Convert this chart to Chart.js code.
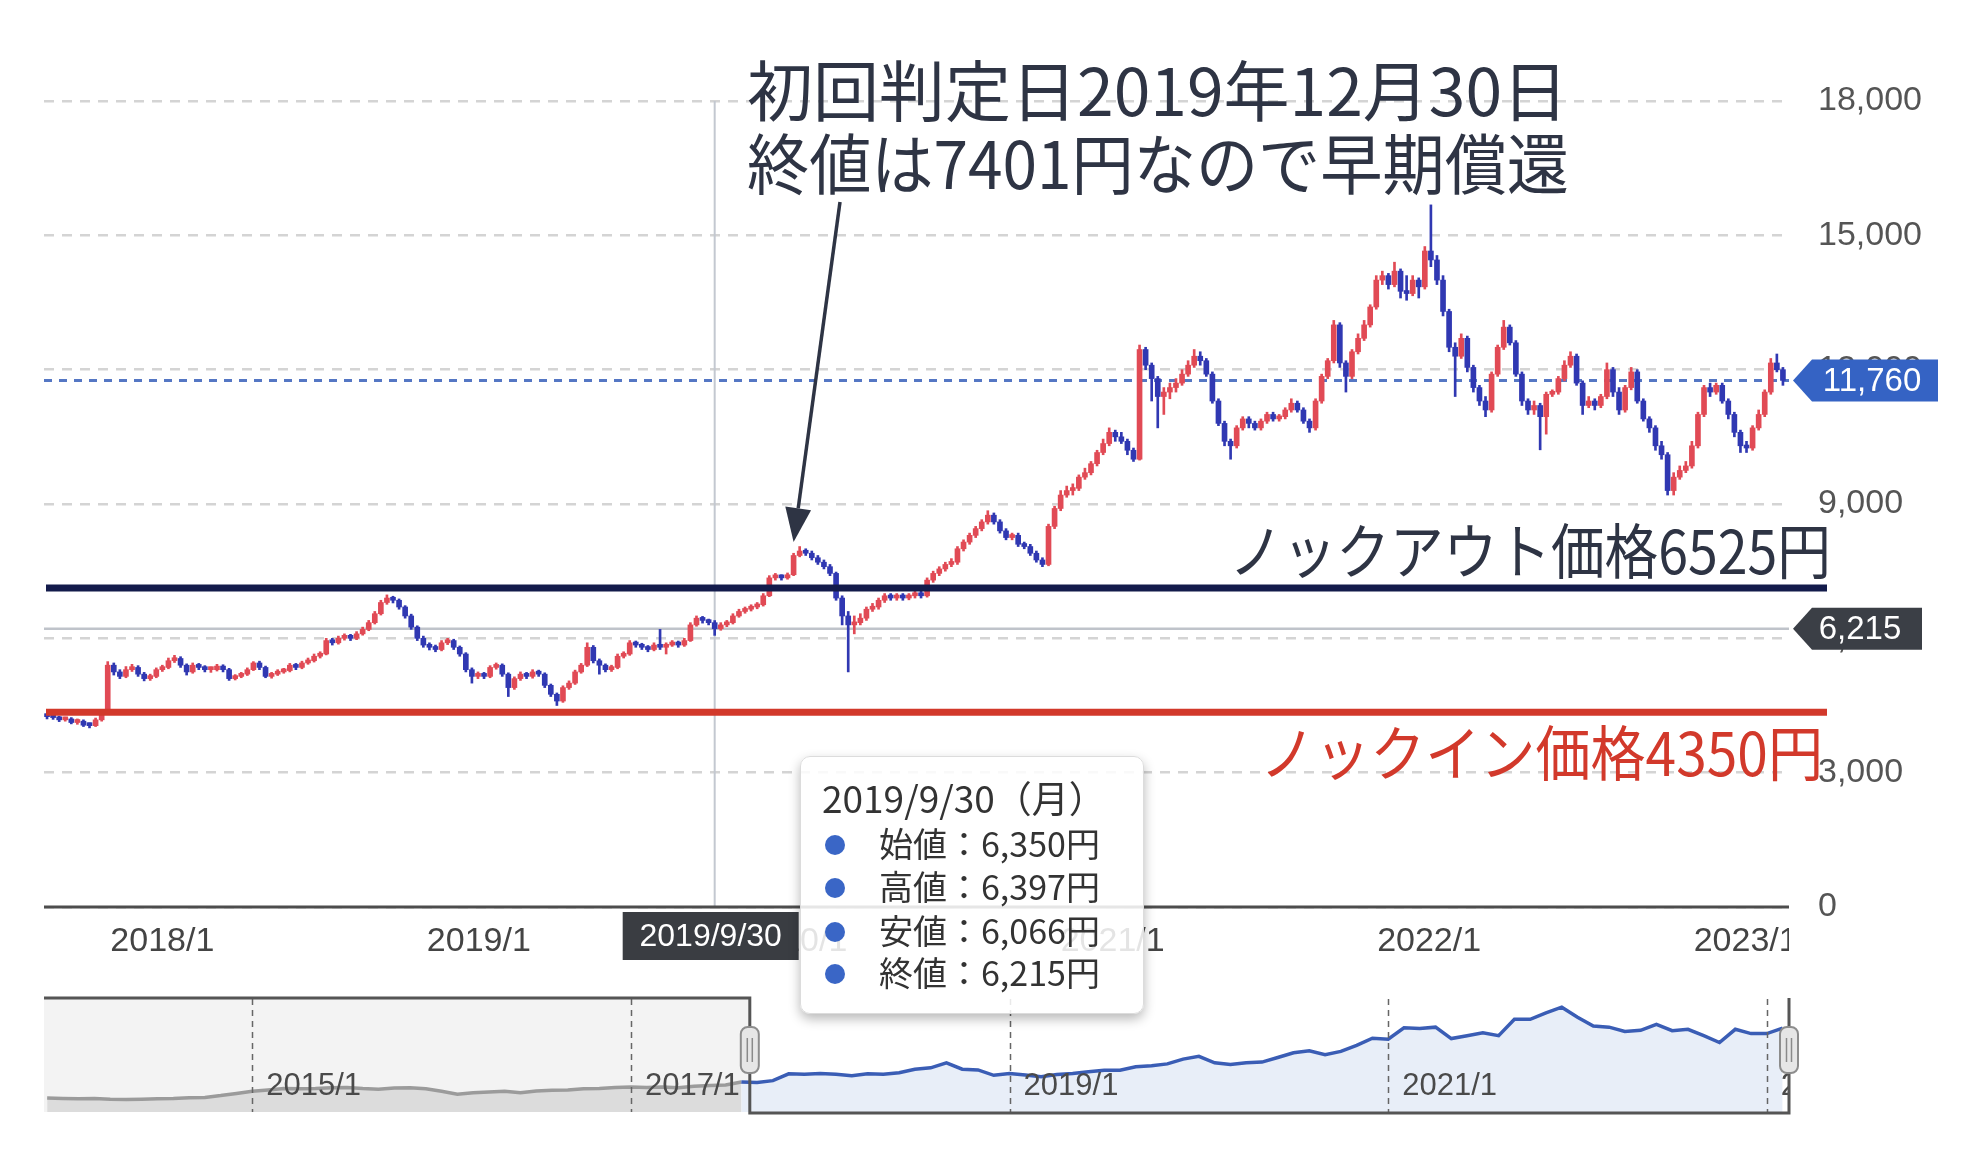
<!DOCTYPE html>
<html lang="ja">
<head>
<meta charset="utf-8">
<title>株価チャート</title>
<script src="https://cdn.jsdelivr.net/npm/chart.js@4.4.1/dist/chart.umd.min.js"></script>
<style>
  html, body { margin: 0; padding: 0; background: #fff; }
  #wrap { position: relative; width: 1976px; height: 1166px; overflow: hidden; }
  #main { position: absolute; left: 0; top: 0; }
  #nav { position: absolute; left: 0; top: 980px; }
  #tip {
    position: absolute; left: 800px; top: 756px; width: 344px; height: 258px;
    box-sizing: border-box; background: rgba(255, 255, 255, 0.86);
    border: 1px solid #dcdcdc; border-radius: 10px;
    box-shadow: 0 5px 12px rgba(0, 0, 0, 0.28);
    font-family: "Noto Sans CJK JP", sans-serif; color: #333;
  }
  #tip .title { position: absolute; left: 21px; top: 17px; font-size: 37px; line-height: 46px; white-space: nowrap; }
  #tip .row { position: absolute; left: 24px; font-size: 34px; line-height: 42px; white-space: nowrap; }
  #tip .dot {
    display: inline-block; width: 20px; height: 20px; border-radius: 50%;
    background: #3a66c6; margin-right: 34px; vertical-align: middle; position: relative; top: -3px;
  }
</style>
</head>
<body>
<div id="wrap">
  <canvas id="main" width="1976" height="980"></canvas>
  <canvas id="nav" width="1976" height="150"></canvas>
  <div id="tip"></div>
</div>
<script>
(function () {
    'use strict';

    // Weekly candles, week 0 = 2017/8/21 (Mon). Open of each week = previous close.
    var firstOpen = 4280;
    var closes = [
        4250, 4230, 4180, 4200, 4120, 4150, 4060, 4050, 4180, 4320,
        5400, 5250, 5150, 5300, 5350, 5200, 5100, 5150, 5300, 5350,
        5500, 5550, 5400, 5250, 5400, 5350, 5300, 5300, 5380, 5300,
        5100, 5150, 5200, 5300, 5450, 5350, 5150, 5200, 5250, 5280,
        5400, 5350, 5450, 5500, 5600, 5650, 5950, 5900, 6000, 6050,
        6000, 6100, 6200, 6350, 6550, 6800, 6900, 6850, 6700, 6500,
        6250, 6000, 5850, 5800, 5750, 5900, 5950, 5800, 5650, 5300,
        5150, 5200, 5150, 5350, 5400, 5200, 4900, 5100, 5200, 5150,
        5250, 5200, 4950, 4750, 4600, 4900, 5000, 5250, 5400, 5800,
        5500, 5400, 5300, 5350, 5600, 5650, 5900, 5850, 5800, 5750,
        5850, 5800, 5850, 5900, 5850, 5950, 6300, 6450, 6400, 6350,
        6215, 6300, 6350, 6500, 6600, 6650, 6700, 6750, 6950, 7350,
        7380, 7350, 7420, 7850, 7950, 7900, 7800, 7700, 7600, 7450,
        6900, 6500, 6300, 6350, 6450, 6650, 6700, 6850, 6950, 6900,
        6950, 6900, 6950, 7000, 6950, 7300, 7450, 7550, 7650, 7700,
        8000, 8150, 8300, 8450, 8600, 8750, 8600, 8400, 8250, 8300,
        8100, 8050, 7900, 7750, 7650, 8500, 8900, 9200, 9300, 9350,
        9600, 9700, 9900, 10150, 10350, 10600, 10500, 10400, 10200, 10000,
        12450, 12100, 11800, 11400, 11500, 11600, 11700, 11900, 12100, 12300,
        12200, 11900, 11300, 10800, 10400, 10300, 10700, 10900, 10800, 10700,
        10850, 11000, 10900, 10950, 11100, 11250, 11100, 10850, 10700, 11300,
        11850, 12200, 13000, 12150, 11850, 12400, 12700, 13000, 13400, 14000,
        14100, 13900, 14200, 13750, 13700, 14000, 13850, 14650, 14450, 14000,
        13300, 12500, 12300, 12700, 12050, 11600, 11300, 11100, 11900, 12500,
        12950, 12600, 11900, 11300, 11100, 11200, 10950, 11450, 11500, 11800,
        12100, 12300, 11700, 11200, 11300, 11200, 11400, 12000, 11500, 11100,
        11600, 11950, 11300, 10900, 10700, 10300, 10100, 9300, 9600, 9750,
        9850, 10300, 11000, 11600, 11500, 11650, 11300, 11000, 10600, 10300,
        10250, 10700, 11000, 11500, 12150, 12000, 11760
    ];
    var highs = [
        4320, 4290, 4260, 4240, 4230, 4200, 4180, 4110, 4220, 4360,
        5480, 5450, 5300, 5370, 5420, 5390, 5240, 5200, 5340, 5400,
        5560, 5620, 5590, 5430, 5450, 5440, 5390, 5360, 5420, 5410,
        5330, 5190, 5240, 5340, 5480, 5490, 5380, 5240, 5300, 5330,
        5440, 5440, 5490, 5560, 5650, 5700, 6000, 6000, 6050, 6100,
        6090, 6150, 6250, 6400, 6600, 6850, 6970, 6940, 6880, 6730,
        6540, 6280, 6050, 5900, 5850, 5950, 6000, 5980, 5830, 5680,
        5340, 5250, 5240, 5390, 5450, 5430, 5230, 5140, 5250, 5240,
        5300, 5290, 5230, 4980, 4780, 4940, 5050, 5290, 5440, 5900,
        5840, 5540, 5430, 5400, 5650, 5700, 5950, 5940, 5890, 5840,
        5900, 6200, 5900, 5950, 5940, 6000, 6350, 6500, 6490, 6430,
        6397, 6350, 6400, 6550, 6650, 6700, 6750, 6800, 7000, 7400,
        7450, 7420, 7460, 7900, 8050, 8000, 7950, 7850, 7750, 7650,
        7480, 6950, 6600, 6500, 6550, 6700, 6780, 6900, 7000, 7000,
        7000, 7000, 7000, 7050, 7060, 7350, 7500, 7600, 7700, 7780,
        8050, 8200, 8350, 8500, 8650, 8850, 8800, 8650, 8450, 8350,
        8350, 8150, 8100, 7950, 7800, 8550, 8950, 9300, 9400, 9450,
        9650, 9800, 9950, 10200, 10450, 10700, 10650, 10600, 10450, 10250,
        12550, 12500, 12150, 11850, 11600, 11700, 11800, 12000, 12200, 12450,
        12400, 12250, 11950, 11350, 10850, 10450, 10750, 10950, 10950, 10850,
        10900, 11050, 11050, 11000, 11150, 11350, 11300, 11150, 10900, 11350,
        11900, 12250, 13100, 13050, 12200, 12450, 12800, 13100, 13450, 14100,
        14200, 14150, 14400, 14250, 14100, 14100, 14050, 14750, 15680, 14550,
        14100, 13350, 12600, 12800, 12750, 12100, 11650, 11400, 11950, 12550,
        13100, 13000, 12650, 11950, 11350, 11300, 11250, 11500, 11550, 11850,
        12200, 12400, 12350, 11750, 11400, 11350, 11450, 12150, 12050, 11600,
        11650, 12050, 12000, 11350, 10950, 10750, 10400, 10150, 9700, 9850,
        9950, 10400, 11050, 11650, 11700, 11700, 11700, 11350, 11050, 10650,
        10400, 10750, 11100, 11550, 12250, 12350, 12050
    ];
    var lows = [
        4200, 4190, 4140, 4150, 4090, 4080, 4030, 4000, 4030, 4150,
        4300, 5180, 5100, 5120, 5260, 5150, 5050, 5060, 5120, 5260,
        5320, 5460, 5350, 5180, 5220, 5300, 5250, 5240, 5270, 5250,
        5060, 5070, 5120, 5170, 5280, 5300, 5120, 5110, 5170, 5220,
        5250, 5300, 5320, 5420, 5470, 5560, 5630, 5850, 5870, 5960,
        5950, 5970, 6070, 6170, 6320, 6520, 6760, 6790, 6650, 6450,
        6200, 5950, 5800, 5740, 5700, 5720, 5860, 5750, 5600, 5250,
        5000, 5100, 5100, 5120, 5310, 5150, 4700, 4860, 5060, 5100,
        5110, 5150, 4900, 4700, 4500, 4570, 4860, 4970, 5220, 5370,
        5450, 5200, 5250, 5260, 5320, 5560, 5620, 5800, 5750, 5700,
        5720, 5750, 5650, 5820, 5800, 5820, 5930, 6270, 6340, 6300,
        6066, 6180, 6260, 6320, 6470, 6560, 6610, 6660, 6720, 6930,
        7300, 7300, 7320, 7400, 7820, 7850, 7750, 7650, 7550, 7400,
        6850, 6300, 5250, 6100, 6300, 6400, 6600, 6650, 6800, 6850,
        6850, 6850, 6860, 6900, 6900, 6920, 7250, 7400, 7500, 7600,
        7650, 7950, 8100, 8250, 8400, 8550, 8550, 8350, 8200, 8200,
        8050, 8000, 7850, 7700, 7600, 7620, 8450, 8850, 9150, 9200,
        9300, 9550, 9650, 9850, 10100, 10300, 10400, 10350, 10100, 9950,
        9980, 12000, 11300, 10700, 11000, 11350, 11500, 11650, 11850, 12050,
        12100, 11850, 11250, 10750, 10300, 10000, 10250, 10650, 10700, 10650,
        10650, 10800, 10850, 10850, 10900, 11050, 11050, 10800, 10600, 10650,
        11250, 11800, 12150, 12050, 11500, 11800, 12350, 12650, 12950, 13350,
        13900, 13800, 13850, 13600, 13550, 13650, 13600, 13800, 14300, 13900,
        13200, 12400, 11400, 12250, 11950, 11500, 11200, 10950, 11050, 11850,
        12450, 12550, 11850, 11200, 11000, 11000, 10210, 10560, 11400, 11450,
        11750, 12050, 11650, 11000, 11150, 11100, 11150, 11350, 11400, 11000,
        11050, 11550, 11250, 10850, 10600, 10200, 10000, 9200, 9200, 9550,
        9700, 9800, 10250, 10950, 11400, 11450, 11250, 10900, 10500, 10150,
        10150, 10200, 10650, 10950, 11450, 11950, 11650
    ];

    // x axis ticks (week positions)
    var xTickLabels = ['2018/1', '2019/1', '2020/1', '2021/1', '2022/1', '2023/1'];
    var xTickWeeks = [19, 71.14, 123.29, 175.57, 227.71, 279.86];

    var lastPrice = 11760;
    var knockOutText = 'ノックアウト価格6525円';
    var knockInText = 'ノックイン価格4350円';
    var knockOutLineAt = 7125;   // where the hand-drawn line sits on the picture
    var knockInLineAt = 4350;
    var noteLines = ['初回判定日2019年12月30日', '終値は7401円なので早期償還'];
    var noteWeek = 123;          // 2019/12/30
    var notePointAt = 8150;

    // crosshair / tooltip
    var crossWeek = 110;
    var crossDate = '2019/9/30';
    var crossDay = '月';
    var tipNames = ['始値', '高値', '安値', '終値'];

    // Navigator: monthly values from 2013/12
    var navStart = 2013 + 11 / 12;
    var navValues = [
        1950,
        1900, 1850, 1900, 1800, 1750, 1800, 1850, 1900, 2000, 2050, 2300, 2600,
        2900, 3100, 3300, 3250, 3300, 3400, 3450, 3300, 3200, 3350, 3400, 3250,
        2900, 2500, 2700, 2800, 2900, 2700, 2950, 3050, 3100, 3250, 3300, 3450,
        3500, 3450, 3500, 3400, 3600, 3700, 3800, 4200, 4150, 4400, 5350, 5300,
        5400, 5300, 5100, 5350, 5280, 5500, 6000, 6200, 6900, 6000, 5900, 5150,
        5400, 5200, 4950, 5250, 5400, 5650, 5850, 5850, 6350, 6500, 6750, 7420,
        7800, 6900, 6650, 6900, 7000, 7650, 8300, 8600, 8050, 8500, 9350, 10350,
        10200, 11800, 11700, 11900, 10300, 10700, 11100, 10700, 13000, 13000, 13900, 14700,
        13300, 12050, 11900, 11300, 11450, 12300, 11400, 11600, 10700, 9750, 11600, 11000,
        11000, 11760
    ];
    var navTickYears = [2015, 2017, 2019, 2021, 2023];
    var navTickLabels = ['2015/1', '2017/1', '2019/1', '2021/1', '2023/1'];
    var navSelStart = 2017.628;

    var RED = '#e14a55';
    var BLUE = '#3038b2';
    var CJK = '"Noto Sans CJK JP", "Noto Sans CJK SC", sans-serif';
    var LATIN = '"Liberation Sans", Arial, sans-serif';

    Chart.defaults.font.family = LATIN;

    var opens = closes.map(function (c, i) { return i === 0 ? firstOpen : closes[i - 1]; });

    function candleColor(ctx) {
        var i = ctx.dataIndex;
        return closes[i] >= opens[i] ? RED : BLUE;
    }

    function line(ctx, x1, y1, x2, y2) {
        ctx.beginPath();
        ctx.moveTo(x1, y1);
        ctx.lineTo(x2, y2);
        ctx.stroke();
    }

    function fmt(v) { return v.toLocaleString('en-US'); }

    function priceTag(ctx, x, y, w, color, text, textX) {
        ctx.fillStyle = color;
        ctx.beginPath();
        ctx.moveTo(x, y);
        ctx.lineTo(x + 19, y - 21);
        ctx.lineTo(x + w, y - 21);
        ctx.lineTo(x + w, y + 21);
        ctx.lineTo(x + 19, y + 21);
        ctx.closePath();
        ctx.fill();
        ctx.fillStyle = '#fff';
        ctx.font = '33px ' + LATIN;
        ctx.textAlign = 'center';
        ctx.textBaseline = 'middle';
        ctx.fillText(text, textX, y + 1);
    }

    var mainOverlay = {
        id: 'mainOverlay',
        beforeDatasetsDraw: function (chart) {
            var ctx = chart.ctx, a = chart.chartArea, x = chart.scales.x, y = chart.scales.y;
            ctx.save();
            // last price
            var ly = y.getPixelForValue(lastPrice);
            ctx.strokeStyle = '#5577c4';
            ctx.lineWidth = 3;
            ctx.setLineDash([8, 7]);
            line(ctx, a.left, ly, a.right, ly);
            ctx.setLineDash([]);
            // crosshair
            var cx = x.getPixelForValue(crossWeek);
            ctx.strokeStyle = '#c3c8d0';
            ctx.lineWidth = 2;
            line(ctx, cx, a.top, cx, a.bottom);
            var cy = y.getPixelForValue(closes[crossWeek]);
            ctx.strokeStyle = '#bfc3ca';
            ctx.lineWidth = 2.5;
            line(ctx, a.left, cy, a.right, cy);
            ctx.restore();
        },
        afterDatasetsDraw: function (chart) {
            var ctx = chart.ctx, a = chart.chartArea, y = chart.scales.y;
            ctx.save();
            var ko = y.getPixelForValue(knockOutLineAt);
            var ki = y.getPixelForValue(knockInLineAt);
            ctx.lineWidth = 7;
            ctx.strokeStyle = '#131b4b';
            line(ctx, a.left + 2, ko, a.right + 38, ko);
            ctx.strokeStyle = '#d2392b';
            line(ctx, a.left + 2, ki, a.right + 38, ki);
            // bottom axis line
            ctx.strokeStyle = '#4d4d4d';
            ctx.lineWidth = 3;
            line(ctx, a.left, a.bottom, a.right, a.bottom);
            ctx.restore();
        },
        afterDraw: function (chart) {
            var ctx = chart.ctx, a = chart.chartArea, x = chart.scales.x, y = chart.scales.y;
            ctx.save();

            // x tick labels, clipped at the plot edge
            ctx.save();
            ctx.beginPath();
            ctx.rect(0, a.bottom, a.right, 80);
            ctx.clip();
            ctx.fillStyle = '#444';
            ctx.font = '34px ' + LATIN;
            ctx.textAlign = 'center';
            ctx.textBaseline = 'middle';
            xTickWeeks.forEach(function (w, k) {
                ctx.fillText(xTickLabels[k], x.getPixelForValue(w), 942);
            });
            ctx.restore();

            // crosshair date box
            var cx = x.getPixelForValue(crossWeek);
            ctx.fillStyle = '#3a3d42';
            ctx.fillRect(cx - 92, 912, 176, 48);
            ctx.fillStyle = '#fff';
            ctx.font = '32px ' + LATIN;
            ctx.textAlign = 'center';
            ctx.textBaseline = 'middle';
            ctx.fillText(crossDate, cx - 4, 937);

            // price tags on the right axis
            priceTag(ctx, a.right + 4, y.getPixelForValue(lastPrice), 145, '#3563c4', fmt(lastPrice), 1872);
            priceTag(ctx, a.right + 4, y.getPixelForValue(closes[crossWeek]), 129, '#3b3f46', fmt(closes[crossWeek]), 1860);

            // knock-out / knock-in labels
            var ko = y.getPixelForValue(knockOutLineAt);
            var ki = y.getPixelForValue(knockInLineAt);
            ctx.textAlign = 'right';
            ctx.font = '60px ' + CJK;
            ctx.fillStyle = '#2e3444';
            ctx.fillText(knockOutText, 1831, ko - 37, 602);
            ctx.fillStyle = '#d2392b';
            ctx.fillText(knockInText, 1823, ki + 41, 563);

            // note text
            ctx.textAlign = 'left';
            ctx.fillStyle = '#2e3444';
            ctx.font = '66px ' + CJK;
            ctx.fillText(noteLines[0], 747, 91, 822);
            ctx.fillText(noteLines[1], 747, 164, 822);

            // arrow
            var tx = x.getPixelForValue(noteWeek), ty = y.getPixelForValue(notePointAt);
            var sx = 840, sy = 202;
            var dx = tx - sx, dy = ty - sy, len = Math.sqrt(dx * dx + dy * dy);
            var ux = dx / len, uy = dy / len;
            var bx = tx - ux * 34, by = ty - uy * 34;
            ctx.strokeStyle = '#2e3444';
            ctx.lineWidth = 3.5;
            line(ctx, sx, sy, bx, by);
            ctx.fillStyle = '#2e3444';
            ctx.beginPath();
            ctx.moveTo(tx, ty);
            ctx.lineTo(bx - uy * 13, by + ux * 13);
            ctx.lineTo(bx + uy * 13, by - ux * 13);
            ctx.closePath();
            ctx.fill();

            ctx.restore();
        }
    };

    new Chart(document.getElementById('main'), {
        type: 'bar',
        data: {
            datasets: [{
                label: 'body',
                data: closes.map(function (c, i) { return { x: i, y: [opens[i], c] }; }),
                backgroundColor: candleColor,
                borderWidth: 0,
                barThickness: 5,
                minBarLength: 3,
                grouped: false,
                order: 0,
            }, {
                label: 'wick',
                data: closes.map(function (c, i) { return { x: i, y: [lows[i], highs[i]] }; }),
                backgroundColor: candleColor,
                borderWidth: 0,
                barThickness: 2,
                grouped: false,
                order: 1,
            }],
        },
        options: {
            responsive: false,
            animation: false,
            events: [],
            layout: { padding: { left: 44, right: 0, top: 101, bottom: 73 } },
            plugins: {
                legend: { display: false },
                tooltip: { enabled: false },
            },
            scales: {
                x: { type: 'linear', min: -0.5, max: 287, offset: false, display: false },
                y: {
                    position: 'right',
                    min: 0,
                    max: 18000,
                    afterFit: function (s) { s.width = 187; },
                    ticks: {
                        stepSize: 3000,
                        padding: 29,
                        color: '#555',
                        font: { size: 34 },
                        callback: function (v) { return fmt(v); },
                    },
                    grid: { color: '#d4d4d4', lineWidth: 2.5, drawTicks: false },
                    border: { display: false, dash: [10, 8] },
                },
            },
        },
        plugins: [mainOverlay],
    });

    // Navigator
    var NAV_GRAY = '#9b9b9b';
    var NAV_BLUE = '#3a5db5';

    var navOverlay = {
        id: 'navOverlay',
        beforeDatasetsDraw: function (chart) {
            var ctx = chart.ctx, a = chart.chartArea, x = chart.scales.x;
            var sx = x.getPixelForValue(navSelStart);
            ctx.save();
            ctx.fillStyle = '#f3f3f3';
            ctx.fillRect(a.left, a.top, sx - a.left, a.bottom - a.top);
            ctx.restore();
        },
        afterDatasetsDraw: function (chart) {
            var ctx = chart.ctx, a = chart.chartArea, x = chart.scales.x;
            var sx = x.getPixelForValue(navSelStart);
            ctx.save();
            // dashed year lines
            ctx.strokeStyle = '#666';
            ctx.lineWidth = 1.5;
            ctx.setLineDash([6, 5]);
            navTickYears.forEach(function (yr) {
                var gx = Math.round(x.getPixelForValue(yr)) + 0.5;
                line(ctx, gx, a.top, gx, a.bottom);
            });
            ctx.setLineDash([]);
            // labels
            ctx.save();
            ctx.beginPath();
            ctx.rect(a.left, 0, a.right - a.left, chart.height);
            ctx.clip();
            ctx.fillStyle = '#4a4a4a';
            ctx.font = '31px ' + LATIN;
            ctx.textAlign = 'left';
            ctx.textBaseline = 'middle';
            navTickYears.forEach(function (yr, k) {
                ctx.fillText(navTickLabels[k], x.getPixelForValue(yr) + 14, 106);
            });
            ctx.restore();
            // outline
            ctx.strokeStyle = '#555';
            ctx.lineWidth = 3;
            ctx.beginPath();
            ctx.moveTo(a.left, a.top - 1);
            ctx.lineTo(sx, a.top - 1);
            ctx.lineTo(sx, a.bottom + 1);
            ctx.lineTo(a.right, a.bottom + 1);
            ctx.lineTo(a.right, a.top - 1);
            ctx.stroke();
            // handles
            [sx, a.right].forEach(function (hx) {
                ctx.fillStyle = '#e6e6e6';
                ctx.strokeStyle = '#8d8d8d';
                ctx.lineWidth = 2;
                ctx.beginPath();
                if (ctx.roundRect) ctx.roundRect(hx - 9, 47, 18, 46, 7);
                else ctx.rect(hx - 9, 47, 18, 46);
                ctx.fill();
                ctx.stroke();
                ctx.strokeStyle = '#8a8a8a';
                ctx.lineWidth = 1.5;
                line(ctx, hx - 2.5, 58, hx - 2.5, 82);
                line(ctx, hx + 2.5, 58, hx + 2.5, 82);
            });
            ctx.restore();
        },
    };

    new Chart(document.getElementById('nav'), {
        type: 'line',
        data: {
            datasets: [{
                data: navValues.map(function (v, k) { return { x: navStart + k / 12, y: v }; }),
                borderWidth: 3.5,
                borderColor: NAV_BLUE,
                backgroundColor: '#e8eef8',
                pointRadius: 0,
                tension: 0,
                fill: 'origin',
                segment: {
                    borderColor: function (c) { return c.p1.parsed.x <= navSelStart ? NAV_GRAY : NAV_BLUE; },
                    backgroundColor: function (c) { return c.p1.parsed.x <= navSelStart ? '#dcdcdc' : '#e8eef8'; },
                },
            }],
        },
        options: {
            responsive: false,
            animation: false,
            events: [],
            layout: { padding: { left: 44, right: 187, top: 19, bottom: 18 } },
            plugins: {
                legend: { display: false },
                tooltip: { enabled: false },
            },
            scales: {
                x: { type: 'linear', min: 2013.9, max: 2023.117, display: false },
                y: { min: 0, max: 15850, display: false },
            },
        },
        plugins: [navOverlay],
    });

    // Tooltip box
    var tip = document.getElementById('tip');
    var tipValues = [opens[crossWeek], highs[crossWeek], lows[crossWeek], closes[crossWeek]];
    var html = '<div class="title">' + crossDate + '（' + crossDay + '）</div>';
    var rowTops = [65, 108, 152, 194];
    tipNames.forEach(function (n, k) {
        html += '<div class="row" style="top:' + rowTops[k] + 'px"><span class="dot"></span>' +
            n + '：' + fmt(tipValues[k]) + '円</div>';
    });
    tip.innerHTML = html;
})();
</script>
</body>
</html>
